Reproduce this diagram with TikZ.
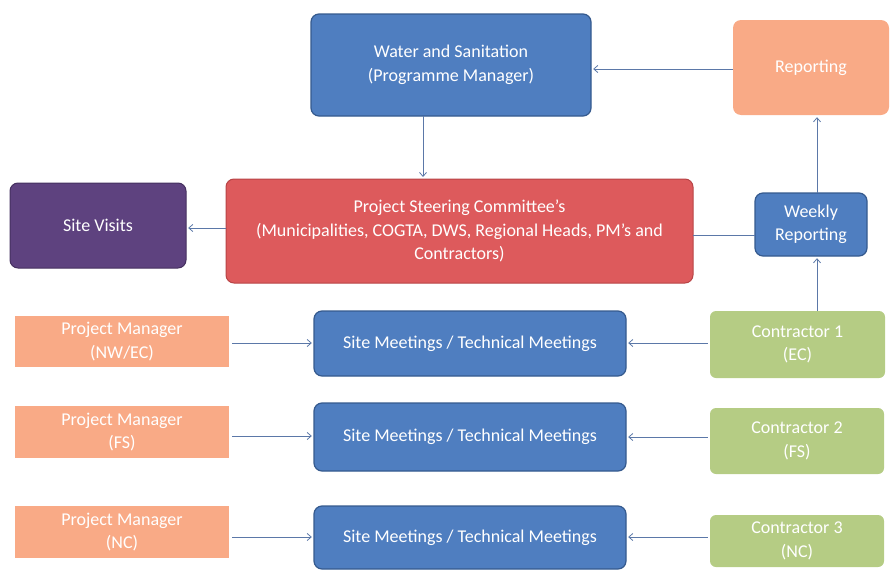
\documentclass[tikz,border=0pt]{standalone}
\usepackage{fontspec}
\setmainfont{Carlito}
\usetikzlibrary{arrows.meta}
\definecolor{bfill}{HTML}{4F7EC0}
\definecolor{bdraw}{HTML}{355A8E}
\definecolor{rfill}{HTML}{DD5A5C}
\definecolor{rdraw}{HTML}{B84446}
\definecolor{pfill}{HTML}{5E427F}
\definecolor{pdraw}{HTML}{45305F}
\definecolor{ofill}{HTML}{F9AA86}
\definecolor{gfill}{HTML}{B5CC84}
\definecolor{lcol}{HTML}{5B78A8}
\tikzset{
  bluebox/.style={fill=bfill, draw=bdraw, line width=1.2pt, rounded corners=8pt},
  redbox/.style={fill=rfill, draw=rdraw, line width=1pt, rounded corners=8pt},
  purpbox/.style={fill=pfill, draw=pdraw, line width=1pt, rounded corners=8pt},
  orbox/.style={fill=ofill, draw=none},
  grbox/.style={fill=gfill, draw=none, rounded corners=6pt},
  conn/.style={draw=lcol, line width=0.8pt, -{Straight Barb[length=4pt,width=7pt]}},
  plainconn/.style={draw=lcol, line width=0.8pt}
}
\begin{document}
\begin{tikzpicture}[x=1pt,y=-1pt]
\useasboundingbox (0,0) rectangle (891,570);
\newcommand{\mybox}[7]{% name, style, x1,y1,x2,y2, text
  \path[#2] (#3,#4) rectangle (#5,#6);
  \node[font=\fontsize{18}{23.5}\selectfont, text=white, align=center, inner sep=0pt,
        minimum width={#5-#3}, minimum height={#6-#4}] (#1) at ({(#3+#5)/2},{(#4+#6)/2}) {#7};
}
\mybox{water}{bluebox}{311}{14}{591}{116}{Water and Sanitation\\(Programme Manager)}
\mybox{report}{orbox,rounded corners=8pt}{733}{20}{889}{115}{Reporting}
\mybox{psc}{redbox}{226}{179}{693}{283}{Project Steering Committee's\\(Municipalities, COGTA, DWS, Regional Heads, PM's and\\Contractors)}
\mybox{visits}{purpbox}{10}{183}{186}{268}{Site Visits}
\mybox{weekly}{bluebox}{755}{193}{867}{256}{Weekly\\Reporting}
% rows
\mybox{pma}{orbox}{15}{316}{229}{367}{Project Manager\\(NW/EC)}
\mybox{sma}{bluebox}{314}{311}{626}{376}{Site Meetings / Technical Meetings}
\mybox{ca}{grbox}{710}{311}{885}{378}{Contractor 1\\(EC)}
\mybox{pmb}{orbox}{15}{406}{229}{458}{Project Manager\\(FS)}
\mybox{smb}{bluebox}{314}{403}{626}{471}{Site Meetings / Technical Meetings}
\mybox{cb}{grbox}{710}{408}{884}{474}{Contractor 2\\(FS)}
\mybox{pmc}{orbox}{15}{506}{229}{558}{Project Manager\\(NC)}
\mybox{smc}{bluebox}{314}{506}{626}{569}{Site Meetings / Technical Meetings}
\mybox{cc}{grbox}{710}{515}{884}{567}{Contractor 3\\(NC)}
% connectors
\draw[conn] (report.west |- 0,69) -- ([xshift=2pt]water.east |- 0,69);
\draw[conn] (423,116) -- (423,177);
\draw[conn] (psc.west |- 0,228) -- ([xshift=2pt]visits.east |- 0,228);
\draw[plainconn] (psc.east |- 0,235) -- (weekly.west |- 0,235);
\draw[conn] (weekly.north -| 817,0) -- ([yshift=-2pt]report.south -| 817,0);
\draw[conn] (ca.north -| 817,0) -- ([yshift=-2pt]weekly.south -| 817,0);
\draw[conn] ([xshift=3pt]pma.east |- 0,343) -- ([xshift=-2pt]sma.west |- 0,343);
\draw[conn] ([xshift=-2pt]ca.west |- 0,343) -- ([xshift=2pt]sma.east |- 0,343);
\draw[conn] ([xshift=3pt]pmb.east |- 0,436) -- ([xshift=-2pt]smb.west |- 0,436);
\draw[conn] ([xshift=-2pt]cb.west |- 0,437) -- ([xshift=2pt]smb.east |- 0,437);
\draw[conn] ([xshift=3pt]pmc.east |- 0,537) -- ([xshift=-2pt]smc.west |- 0,537);
\draw[conn] ([xshift=-2pt]cc.west |- 0,537) -- ([xshift=2pt]smc.east |- 0,537);
\end{tikzpicture}
\end{document}
